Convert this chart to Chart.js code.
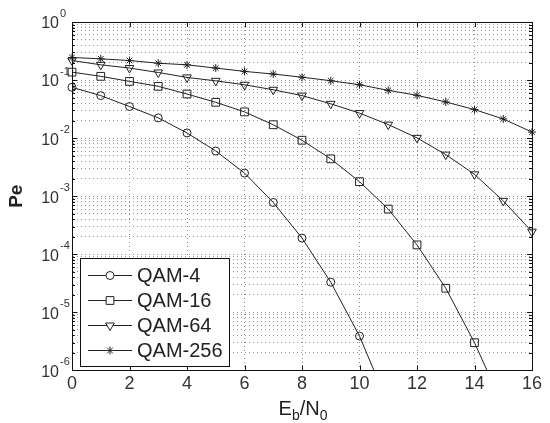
<!DOCTYPE html>
<html>
<head>
<meta charset="utf-8">
<script src="https://cdn.jsdelivr.net/npm/chart.js@4"></script>
<style>
body { margin: 0; background: #fff; }
#wrap { width: 550px; height: 423px; position: relative; }
</style>
</head>
<body>
<div id="wrap"><canvas id="berChart"></canvas></div>
<script>
// Eb/N0 (dB) and symbol error rate
const ebno = [0, 1, 2, 3, 4, 5, 6, 7, 8, 9, 10, 11, 12, 13, 14, 15, 16];
const qam4 = [0.075, 0.054, 0.035, 0.0223, 0.0123, 0.006, 0.0025, 7.8e-4, 1.9e-4, 3.3e-5, 3.9e-6, 2.6e-7];
const qam16 = [0.137, 0.116, 0.095, 0.078, 0.0575, 0.0414, 0.0283, 0.017, 0.0092, 0.0044, 0.00178, 6e-4, 1.45e-4, 2.6e-5, 3e-6, 2.4e-7];
const qam64 = [0.217, 0.183, 0.161, 0.135, 0.111, 0.097, 0.083, 0.068, 0.054, 0.039, 0.027, 0.0171, 0.0101, 0.0052, 0.00238, 8.3e-4, 2.45e-4];
const qam256 = [0.245, 0.232, 0.217, 0.195, 0.183, 0.161, 0.141, 0.127, 0.112, 0.0975, 0.083, 0.0665, 0.0546, 0.042, 0.031, 0.0214, 0.0127];

const seriesNames = ["QAM-4", "QAM-16", "QAM-64", "QAM-256"];
const markers = ["circle", "rect", "triangle", "star"];
const markerSizes = [4, 5.5, 5, 4];
const markerRot = [0, 0, 180, 0];
const xTicks = [0, 2, 4, 6, 8, 10, 12, 14, 16];
const decadeExps = [0, -1, -2, -3, -4, -5, -6];

// 1..9 x 10^n minor grid like matlab
const yTickValues = [];
for (let e = -6; e < 0; e++) {
    for (let m = 1; m < 10; m++) yTickValues.push(m * Math.pow(10, e));
}
yTickValues.push(1);

const allSeries = [qam4, qam16, qam64, qam256];

const datasets = allSeries.map((vals, i) => ({
    label: seriesNames[i],
    data: vals.map((v, k) => ({ x: ebno[k], y: v })),
    borderColor: "#222",
    backgroundColor: "rgba(0,0,0,0)",
    borderWidth: 1,
    pointStyle: markers[i],
    pointRadius: markerSizes[i],
    pointRotation: markerRot[i],
    pointBorderColor: "#222",
    pointBackgroundColor: "rgba(0,0,0,0)",
    pointBorderWidth: 1,
    tension: 0,
    clip: { left: 10, right: 10, top: 0, bottom: 0 }
}));

const matlabLook = {
    id: "matlabLook",
    afterDraw(chart) {
        const ctx = chart.ctx;
        const a = chart.chartArea;
        const xs = chart.scales.x;
        const ys = chart.scales.y;
        ctx.save();

        // inward ticks
        ctx.strokeStyle = "#111";
        ctx.lineWidth = 1;
        ctx.beginPath();
        xTicks.forEach(t => {
            const px = Math.round(xs.getPixelForValue(t)) + 0.5;
            ctx.moveTo(px, a.bottom); ctx.lineTo(px, a.bottom - 5);
            ctx.moveTo(px, a.top); ctx.lineTo(px, a.top + 5);
        });
        yTickValues.forEach(v => {
            const py = Math.round(ys.getPixelForValue(v)) + 0.5;
            const len = Math.abs(Math.log10(v) - Math.round(Math.log10(v))) < 1e-9 ? 5 : 3;
            ctx.moveTo(a.left, py); ctx.lineTo(a.left + len, py);
            ctx.moveTo(a.right, py); ctx.lineTo(a.right - len, py);
        });
        ctx.stroke();

        // box
        ctx.strokeRect(Math.round(a.left) + 0.5, Math.round(a.top) + 0.5,
            Math.round(a.right - a.left), Math.round(a.bottom - a.top));

        // y tick labels 10^n
        ctx.fillStyle = "#333";
        decadeExps.forEach(e => {
            const py = ys.getPixelForValue(Math.pow(10, e));
            ctx.font = "16px 'Liberation Sans', Arial, sans-serif";
            ctx.textAlign = "right";
            ctx.textBaseline = "middle";
            ctx.fillText("10", a.left - 13, py + 2);
            ctx.font = "11px 'Liberation Sans', Arial, sans-serif";
            ctx.textAlign = "left";
            ctx.fillText(String(e), a.left - 12, py - 8);
        });

        // y title
        ctx.save();
        ctx.translate(17, (a.top + a.bottom) / 2);
        ctx.rotate(-Math.PI / 2);
        ctx.font = "bold 19px 'Liberation Sans', Arial, sans-serif";
        ctx.textAlign = "center";
        ctx.textBaseline = "middle";
        ctx.fillStyle = "#222";
        ctx.fillText("Pe", 0, 0);
        ctx.restore();

        // x title E_b/N_0
        const big = "20px 'Liberation Sans', Arial, sans-serif";
        const small = "14px 'Liberation Sans', Arial, sans-serif";
        const parts = [["E", big, 0], ["b", small, 5], ["/N", big, 0], ["0", small, 5]];
        let total = 0;
        parts.forEach(p => { ctx.font = p[1]; total += ctx.measureText(p[0]).width; });
        let cx = (a.left + a.right) / 2 + 1 - total / 2;
        ctx.textAlign = "left";
        ctx.textBaseline = "alphabetic";
        ctx.fillStyle = "#222";
        parts.forEach(p => {
            ctx.font = p[1];
            ctx.fillText(p[0], cx, 415 + p[2]);
            cx += ctx.measureText(p[0]).width;
        });

        // legend box in lower left
        const lx = a.left + 8, ly = 258, lw = 149, lh = 108;
        ctx.fillStyle = "#fff";
        ctx.fillRect(lx, ly, lw, lh);
        ctx.strokeStyle = "#111";
        ctx.strokeRect(lx + 0.5, ly + 0.5, lw, lh);
        chart.data.datasets.forEach((ds, i) => {
            const yy = ly + 17 + i * 25;
            ctx.strokeStyle = ds.borderColor;
            ctx.lineWidth = 1;
            ctx.beginPath();
            ctx.moveTo(lx + 8, yy + 0.5);
            ctx.lineTo(lx + 52, yy + 0.5);
            ctx.stroke();
            ctx.fillStyle = "#fff";
            Chart.helpers.drawPoint(ctx, {
                pointStyle: ds.pointStyle,
                radius: ds.pointRadius,
                borderWidth: 1,
                rotation: ds.pointRotation
            }, lx + 30, yy + 0.5);
            ctx.fillStyle = "#222";
            ctx.font = "20px 'Liberation Sans', Arial, sans-serif";
            ctx.textAlign = "left";
            ctx.textBaseline = "middle";
            ctx.fillText(ds.label, lx + 57, yy + 1);
        });
        ctx.restore();
    }
};

new Chart(document.getElementById("berChart"), {
    type: "line",
    data: { datasets: datasets },
    options: {
        responsive: true,
        maintainAspectRatio: false,
        animation: false,
        layout: { padding: { left: 72, right: 18, top: 22, bottom: 25 } },
        plugins: {
            legend: { display: false },
            tooltip: { enabled: false }
        },
        scales: {
            x: {
                type: "linear",
                min: 0,
                max: 16,
                ticks: {
                    stepSize: 2,
                    color: "#333",
                    padding: 3,
                    font: { family: "'Liberation Sans', Arial, sans-serif", size: 18 }
                },
                grid: { color: "#8a8a8a", drawTicks: false, lineWidth: 1 },
                border: { color: "#111", dash: [1, 3] }
            },
            y: {
                type: "logarithmic",
                min: 1e-6,
                max: 1,
                afterBuildTicks: scale => {
                    scale.ticks = yTickValues.map(v => ({ value: v }));
                },
                ticks: { display: false, autoSkip: false },
                grid: { color: "#9a9a9a", drawTicks: false, lineWidth: 1 },
                border: { color: "#111", dash: [1, 3] }
            }
        }
    },
    plugins: [matlabLook]
});
</script>
</body>
</html>
